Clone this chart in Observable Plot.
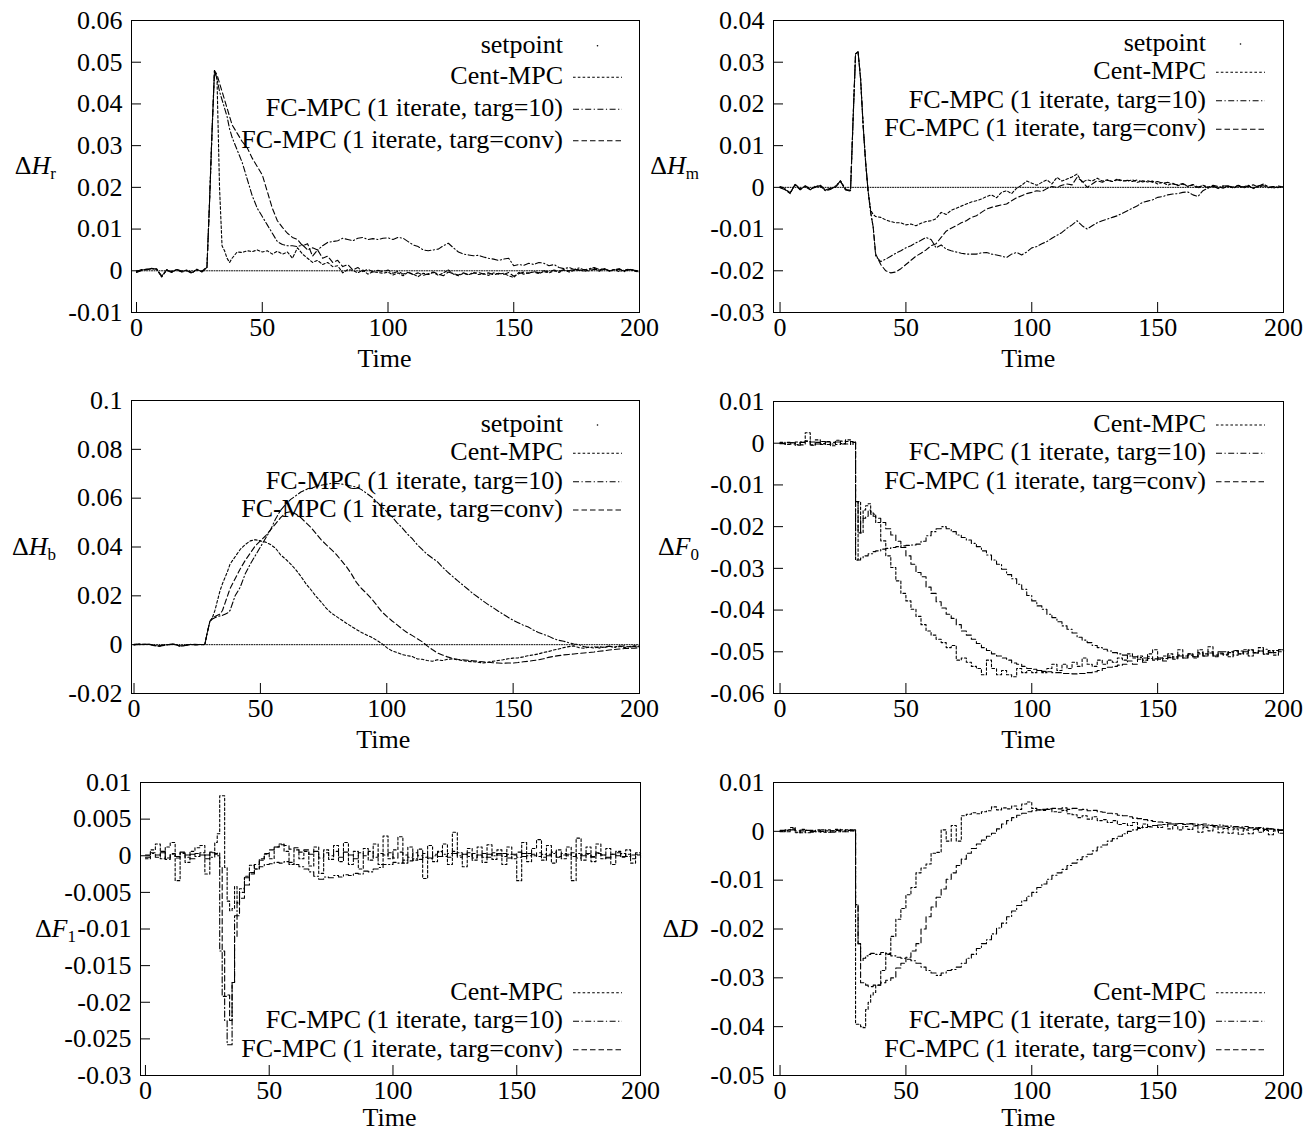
<!DOCTYPE html>
<html><head><meta charset="utf-8">
<script src="https://cdn.jsdelivr.net/npm/d3@7"></script>
<script src="https://cdn.jsdelivr.net/npm/@observablehq/plot@0.6"></script>
<style>
body{margin:0;background:#fff;}
#wrap{position:relative;width:1309px;height:1133px;overflow:hidden;font-family:"Liberation Serif",serif;}
#wrap svg{position:absolute;}
</style></head><body><div id="wrap"></div>
<script>
// ---------- shared time grid ----------
const time = [0,2,4,6,8,10,12,14,16,18,20,22,24,26,28,29,30,31,32,33,34,35,36,37,38,40,42,44,46,48,50,52,54,56,58,60,62,64,66,68,70,72,74,76,78,80,82,84,86,88,90,92,94,96,98,100,102,104,106,108,110,112,114,116,118,120,122,124,126,128,130,132,134,136,138,140,142,144,146,148,150,152,154,156,158,160,162,164,166,168,170,172,174,176,178,180,182,184,186,188,190,192,194,196,198,200];
const xTicks = [0,50,100,150,200];
const seriesNames = ["Cent-MPC","FC-MPC (1 iterate, targ=10)","FC-MPC (1 iterate, targ=conv)"];
const setpointTime = [0,200];
const setpointValue = [0,0];

// ---------- ΔH_r ----------
const yTicksHr = [-0.01,0,0.01,0.02,0.03,0.04,0.05,0.06];
const HrCent = [
-.0003,.0002,.0003,.0005,.0004,-.0015,.0002,-.0003,.0003,-.0002,
.0001,-.0005,.0003,-.0002,.0008,
.016,.033,.048,.046,.02,.006,.0048,.003,.002,
.003,.0045,.0044,.0048,.0046,.005,.0045,.0048,.004,.0047,
.004,.0045,.003,.0055,.004,.003,.002,.0025,.0015,.002,
.001,.0012,-.0005,.0003,.0001,-.0005,.0002,-.0008,-.0002,-.0004,
-.0006,-.0003,-.001,-.0005,-.0012,-.0003,-.0008,-.0014,-.0006,-.0009,
-.0004,-.0011,-.0005,.0002,-.0008,-.0012,-.0006,-.001,-.0004,-.0009,
-.0007,-.0011,-.0005,-.0008,-.0006,-.0012,-.0016,-.0004,-.0008,-.0005,
-.0003,-.0007,-.0002,-.0005,0,-.0004,.0002,-.0003,.0001,.0004,
-.0002,.0003,.0006,-.0001,.0004,0,.0003,-.0002,.0002,.0004,
-.0001,-.0003];
const HrT10 = [
-.0002,.0003,.0002,.0006,.0003,-.0012,.0001,-.0004,.0004,-.0001,
.0002,-.0004,.0002,-.0001,.0009,
.016,.033,.048,.046,.043,.041,.039,.037,.034,
.032,.029,.026,.022,.018,.015,.013,.011,.009,.007,
.0063,.006,.006,.0058,.0062,.005,.0055,.005,.006,.0068,
.007,.0072,.0078,.0075,.0072,.0078,.008,.0075,.0077,.0075,
.0078,.0079,.0075,.008,.0078,.007,.0062,.0058,.005,.0048,
.005,.0052,.006,.0066,.0055,.0045,.004,.0038,.0036,.0037,
.0033,.003,.0028,.0025,.0028,.003,.0012,.0015,.0013,.0018,
.0015,.002,.0018,.0012,.0015,.0008,.0005,.0008,.0003,.0007,
.0002,.0005,.0008,.0003,.0005,0,.0003,.0005,-.0002,.0003,
.0002,-.0003];
const HrConv = [
-.0004,.0001,.0004,.0004,.0005,-.0014,.0003,-.0002,.0002,-.0003,
0,-.0006,.0004,-.0003,.0007,
.016,.033,.048,.047,.045,.043,.041,.039,.037,
.035,.033,.031,.0295,.027,.025,.023,.019,.015,.012,
.0104,.009,.008,.0075,.006,.0065,.0035,.005,.003,.0035,
.002,.0025,.001,.0015,.0002,.0008,-.0002,.0004,-.0003,.0001,
-.0002,.0002,-.0006,-.0001,-.0008,-.0004,-.0009,-.0005,-.0011,-.0007,
-.0003,-.0008,-.0012,-.0003,-.0007,-.001,-.0005,-.0009,-.0006,-.0004,
-.0008,-.0005,-.001,-.0006,-.0009,-.0004,-.0013,-.0007,-.0003,-.0006,
-.0002,-.0005,0,-.0003,.0002,-.0001,.0003,0,.0004,.0001,
.0003,-.0001,.0004,.0002,.0005,-.0001,.0002,.0004,0,.0003,
.0001,-.0002];

// ---------- ΔH_m ----------
const yTicksHm = [-0.03,-0.02,-0.01,0,0.01,0.02,0.03,0.04];
const HmCent = [
0,-.0005,-.0015,.0008,-.0004,.0003,-.0005,.0002,.0004,-.0007,
-.0004,.0002,.0016,-.0004,-.0008,
.016,.032,.0325,.026,.015,.006,-.001,-.0055,-.0065,
-.007,-.0072,-.0078,-.0082,-.0085,-.0085,-.009,-.0088,-.0092,-.0086,
-.0082,-.008,-.0075,-.006,-.0065,-.0055,-.005,-.0045,-.004,-.0035,
-.0032,-.0028,-.0022,-.0018,-.0025,-.0012,-.0008,-.0015,-.0002,.0005,
.0015,.001,.0005,.0012,.0018,.0008,.0024,.0015,.002,.0025,
.0032,.0012,.0018,.0015,.0022,.0015,.0018,.0014,.002,.0016,
.0015,.0018,.0012,.0016,.0013,.0015,.0008,.0012,.0005,.001,
.0004,.0008,.0002,.0006,-.0002,.0005,.0001,.0003,-.0003,.0002,
.0004,-.0002,.0003,.0001,.0005,-.0003,.0002,.0008,.0001,-.0002,
.0003,.0001];
const HmT10 = [
-.0001,-.0006,-.0014,.0007,-.0005,.0002,-.0006,.0003,.0003,-.0008,
-.0005,.0003,.0015,-.0005,-.0007,
.016,.032,.0325,.026,.015,.006,-.001,-.006,-.0095,
-.0165,-.0178,-.0172,-.0165,-.0158,-.0152,-.0145,-.014,-.0133,-.0127,
-.012,-.0125,-.0145,-.0138,-.0148,-.0152,-.0155,-.0158,-.016,-.016,
-.016,-.0157,-.0156,-.016,-.0162,-.0165,-.0168,-.016,-.0156,-.0162,
-.0155,-.0145,-.0142,-.0135,-.013,-.0122,-.0115,-.0108,-.0098,-.009,
-.008,-.0092,-.01,-.0092,-.0085,-.008,-.0076,-.0072,-.0068,-.0062,
-.0056,-.005,-.0044,-.0036,-.0033,-.003,-.0024,-.0022,-.0018,-.0016,
-.0015,-.0012,-.0011,-.0018,-.0022,-.0008,-.0002,.0003,-.0001,.0004,
.0002,-.0001,.0005,.0001,.0003,-.0002,.0004,.0006,0,.0002,
-.0001,.0002];
const HmConv = [
.0002,-.0003,-.0013,.0006,-.0006,.0004,-.0003,0,.0005,-.0006,
-.0002,0,.0014,-.0006,-.0009,
.016,.032,.0325,.026,.015,.006,-.001,-.006,-.0095,
-.016,-.0185,-.02,-.0205,-.0203,-.0195,-.0185,-.0175,-.0165,-.0158,
-.015,-.014,-.0135,-.012,-.0105,-.0098,-.0092,-.0085,-.008,-.0072,
-.0068,-.006,-.0052,-.0048,-.0045,-.0042,-.004,-.0032,-.0025,-.002,
-.0015,-.0012,-.0008,-.001,-.0003,.0002,0,.0005,.0008,.0006,
.0024,.0015,0,.0008,.0016,.0012,.0017,.0014,.0018,.0015,
.0017,.0014,.0018,.0013,.0016,.0012,.0014,.001,.0012,.0008,
.0006,.0009,.0003,.0007,.0001,.0004,-.0001,.0005,.0002,-.0002,
.0003,.0001,.0004,-.0002,.0003,.0006,0,.0004,-.0001,.0002,
0,.0002];

// ---------- ΔH_b ----------
const yTicksHb = [-0.02,0,0.02,0.04,0.06,0.08,0.1];
const HbCent = [
0,.0002,.0001,.0002,-.0003,-.0006,-.0002,.0001,.0002,-.0006,
-.0004,.0001,0,.0001,0,
.005,.0095,.011,.014,.018,.022,.025,.0275,.03,
.033,.036,.039,.041,.0425,.043,.0425,.042,.041,.0395,
.0368,.035,.033,.0307,.028,.025,.0225,.0198,.0175,.015,
.013,.0116,.0102,.0088,.0075,.0062,.005,.004,.003,.0018,
.0005,-.0012,-.0025,-.0032,-.004,-.0045,-.0048,-.0058,-.006,-.0065,
-.0068,-.0062,-.0065,-.006,-.0058,-.0062,-.0065,-.0068,-.007,-.0072,
-.0075,-.0072,-.0068,-.0065,-.0062,-.0058,-.0055,-.0054,-.005,-.0045,
-.0042,-.0038,-.0032,-.0028,-.0022,-.0018,-.0012,-.0008,-.0005,-.0012,
-.0015,-.001,-.0014,-.0008,-.0012,-.0006,-.001,-.0005,-.0012,-.0008,
-.0005,-.0009];
const HbT10 = [
-.0001,.0003,0,.0002,-.0002,-.0006,-.0003,.0002,.0001,-.0005,
-.0004,.0002,-.0001,.0001,0,
.005,.0095,.0105,.011,.0115,.0118,.012,.0125,.013,
.014,.02,.0235,.029,.033,.0365,.04,.0435,.047,.0515,
.055,.0575,.0595,.061,.0625,.0635,.064,.0648,.0653,.0657,
.066,.066,.0658,.0654,.065,.0645,.0635,.062,.0605,.0585,
.0565,.0545,.0525,.05,.048,.0455,.0435,.041,.039,.037,
.0355,.034,.0318,.0298,.028,.0262,.0245,.0228,.021,.0195,
.018,.0165,.0152,.0138,.0125,.0112,.01,.009,.008,.0072,
.006,.005,.0042,.0035,.0025,.0018,.0014,.0008,.0003,0,
-.0008,-.0012,-.0008,-.0014,-.001,-.0006,-.0012,-.0008,-.0005,-.001,
-.0007,-.0004];
const HbConv = [
.0001,.0001,.0002,.0001,-.0004,-.0005,-.0001,0,.0003,-.0005,
-.0003,0,.0001,0,.0001,
.005,.0095,.011,.0115,.012,.0125,.014,.017,.02,
.023,.027,.031,.0345,.0375,.0405,.0425,.0445,.047,.0495,
.052,.054,.0545,.0535,.052,.05,.048,.0455,.043,.041,
.039,.037,.0345,.032,.029,.0255,.023,.021,.0188,.0162,
.0135,.0116,.0098,.0082,.0065,.005,.0038,.0025,.0012,-.0005,
-.002,-.0034,-.0042,-.005,-.0056,-.006,-.0062,-.0064,-.0066,-.0068,
-.007,-.0072,-.0074,-.0075,-.0076,-.0075,-.0075,-.0073,-.007,-.0068,
-.0065,-.0062,-.0058,-.0052,-.0048,-.0045,-.0042,-.004,-.0038,-.0036,
-.0034,-.0032,-.003,-.0027,-.0025,-.0022,-.002,-.0018,-.0016,-.0015,
-.0014,-.0012];

// ---------- ΔF_0 ----------
const yTicksF0 = [-0.06,-0.05,-0.04,-0.03,-0.02,-0.01,0,0.01];
const F0Cent = [
.0002,-.0003,.0001,-.0005,.0003,.0025,-.0005,.0008,-.0003,.0004,
-.0006,.0007,-.0002,.0008,-.0003,
.0003,-.028,-.014,-.0215,-.016,-.015,-.0145,-.0165,-.017,
-.019,-.0234,-.027,-.0298,-.033,-.036,-.0378,-.0398,-.0415,-.0435,
-.045,-.046,-.047,-.0478,-.049,-.0485,-.052,-.0515,-.0525,-.0535,
-.054,-.0555,-.052,-.054,-.0555,-.0545,-.0555,-.056,-.054,-.055,
-.0545,-.055,-.0545,-.055,-.054,-.053,-.0545,-.053,-.054,-.0525,
-.0535,-.0515,-.053,-.0535,-.052,-.053,-.052,-.0525,-.0515,-.052,
-.0505,-.0515,-.051,-.052,-.0505,-.0495,-.0515,-.051,-.0505,-.0515,
-.0495,-.051,-.0505,-.0515,-.0495,-.0505,-.0488,-.051,-.0505,-.05,
-.0512,-.0498,-.0505,-.0495,-.051,-.0502,-.049,-.0505,-.0498,-.0508,
-.0495,-.0505];
const F0T10 = [
0,-.0002,.0001,-.0003,.0002,.0004,-.0004,.0002,-.0001,.0003,
-.0002,.0003,-.0001,.0004,.0001,
.0002,-.028,-.028,-.0275,-.027,-.027,-.0265,-.0265,-.026,
-.0258,-.0254,-.0252,-.025,-.0248,-.0246,-.0245,-.0244,-.0242,-.0235,
-.0222,-.0212,-.0205,-.02,-.0205,-.0212,-.022,-.0226,-.0232,-.024,
-.0248,-.0258,-.0268,-.028,-.029,-.0302,-.0315,-.0325,-.0338,-.035,
-.0365,-.0378,-.039,-.0398,-.041,-.0418,-.0428,-.0438,-.0446,-.0455,
-.0465,-.0472,-.0478,-.0485,-.049,-.0494,-.0498,-.0502,-.0505,-.0508,
-.051,-.0512,-.0514,-.0515,-.0516,-.0517,-.0518,-.0516,-.0514,-.0512,
-.051,-.0515,-.0508,-.0512,-.0505,-.051,-.0503,-.0508,-.05,-.0506,
-.0502,-.0497,-.0505,-.05,-.0496,-.0503,-.0498,-.0494,-.0502,-.0497,
-.05,-.0496];
const F0Conv = [
-.0001,.0002,-.0002,.0003,-.0004,.0006,.0003,-.0002,.0004,-.0003,
.0002,-.0003,.0005,-.0002,.0004,
.0001,-.014,-.0215,-.0185,-.018,-.0175,-.016,-.017,-.0175,
-.018,-.019,-.0205,-.022,-.0235,-.025,-.027,-.029,-.031,-.032,
-.0345,-.036,-.038,-.0395,-.041,-.042,-.0435,-.045,-.046,-.047,
-.048,-.049,-.0497,-.0505,-.051,-.0515,-.052,-.0527,-.053,-.0535,
-.054,-.0542,-.0545,-.0547,-.0548,-.055,-.055,-.0552,-.0552,-.0553,
-.0552,-.0552,-.055,-.0548,-.0545,-.054,-.0537,-.0535,-.0532,-.053,
-.0522,-.053,-.0518,-.0525,-.0512,-.052,-.0515,-.0522,-.051,-.0518,
-.0508,-.0515,-.0505,-.0512,-.0502,-.051,-.05,-.0512,-.0503,-.0508,
-.05,-.0508,-.0498,-.0505,-.0495,-.0503,-.0498,-.0506,-.0497,-.0502,
-.0495,-.05];

// ---------- ΔF_1 ----------
const yTicksF1 = [-0.03,-0.025,-0.02,-0.015,-0.01,-0.005,0,0.005,0.01];
const F1Cent = [
-.0004,.0008,.0016,-.0004,.0012,.0018,-.0034,.0004,-.0009,.0006,
.0011,.0014,-.0025,.0004,.0018,
.003,.0082,.0082,-.0016,-.0062,-.0075,-.0072,-.0042,-.0065,
-.0045,-.0028,-.0013,-.0018,-.0006,.0002,-.0004,.0012,.0016,.0006,
-.0012,.0008,-.0004,.0006,-.0014,.0012,-.0024,.0008,-.0005,.0014,
-.0008,.0018,-.0012,.0006,-.0018,.001,-.0006,.0016,-.0012,.0027,
-.0004,.0008,.0026,-.001,.0012,-.0006,.0009,-.0031,.0014,-.0008,
.0006,.0016,-.0012,.0032,.0004,-.0015,.001,-.0006,.0012,-.0009,
.0015,-.0005,.0008,-.0012,.0012,-.0004,-.0034,.0018,-.0008,.001,
.0022,-.0006,.0014,-.001,.0008,-.0004,.0012,-.0034,.0024,-.0006,
.0012,-.0008,.0016,-.0004,.001,-.0012,.0006,-.0002,.0008,-.001,
.0004,-.0003];
const F1T10 = [
.0001,.0003,-.0002,.0004,-.0003,.0002,-.0001,.0003,-.0002,.0002,
-.0001,.0004,.0001,-.0002,.0003,
0,-.013,-.0192,-.0225,-.0258,-.0258,-.0173,-.0082,-.0064,
-.005,-.003,-.0023,-.0018,-.0015,-.0012,-.0011,-.0009,-.001,-.0008,
-.0009,-.0012,-.0015,-.0018,-.0022,-.0028,-.0032,-.0029,-.003,-.0027,
-.0029,-.0026,-.0027,-.0024,-.0025,-.0021,-.0022,-.0018,-.0016,-.0012,
-.0012,-.0009,-.001,-.0006,-.0007,-.0004,-.0005,-.0002,-.0003,0,
-.0001,.0002,-.0002,.0003,0,.0002,-.0001,.0003,.0001,-.0002,
.0002,0,.0003,-.0001,.0002,.0001,-.0002,.0003,0,.0002,
-.0001,.0002,0,.0003,-.0002,.0001,.0002,-.0001,.0003,0,
.0002,-.0001,.0003,.0001,-.0002,.0002,0,.0003,-.0001,.0001,
.0002,-.0001];
const F1Conv = [
-.0002,.0004,.0001,.0006,-.0005,.0003,-.0003,.0005,.0001,-.0004,
.0003,.0001,-.0004,.0005,.0002,
.0004,-.0015,-.013,-.0192,-.019,-.0225,-.0173,-.011,-.0082,
-.0058,-.004,-.0025,-.0012,-.0004,.0003,.0008,.0012,.0015,.0014,
.0009,.0011,.0005,.0008,.0002,.0006,-.0003,.0004,0,.0006,
-.0002,.0005,.0001,-.0004,.0004,0,.0006,-.0002,.0003,.0001,
.0004,-.0003,.0005,.0001,-.0002,.0004,0,.0003,-.0004,.0002,
.0005,-.0001,.0003,.0006,-.0002,.0002,.0004,-.0003,.0001,.0003,
-.0002,.0004,.0001,.0003,-.0003,.0002,.0005,-.0001,.0003,0,
.0004,-.0002,.0002,.0005,-.0001,.0003,0,.0004,-.0003,.0002,
.0003,-.0002,.0004,.0001,-.0003,.0002,.0004,-.0001,.0002,-.0004,
.0001,-.0002];

// ---------- ΔD ----------
const yTicksD = [-0.05,-0.04,-0.03,-0.02,-0.01,0,0.01];
const DCent = [
0,.0003,.0008,-.0002,.0004,-.0003,.0002,-.0001,.0003,-.0002,
.0001,.0004,-.0001,.0003,.0002,
.0003,-.0395,-.0395,-.04,-.0402,-.0365,-.035,-.0335,-.033,
-.0315,-.0285,-.025,-.0215,-.018,-.0158,-.013,-.0115,-.0085,-.0075,
-.0067,-.0045,-.0043,.0003,-.002,.0012,-.002,.0032,.0035,.0038,
.0036,.004,.0042,.005,.0044,.0048,.0046,.0052,.0045,.0056,
.006,.0047,.0044,.0043,.0045,.004,.0039,.0043,.0036,.0034,
.0028,.0032,.0025,.003,.0022,.0024,.0018,.0022,.0014,.0016,
.0012,.0018,.0008,.0015,.0009,.0012,.0008,.0014,.0005,.0012,
.0003,.001,.0004,.0011,-.0002,.0008,.0001,.0009,-.0003,.0006,
-.0004,.0005,-.0006,.0003,-.0005,.0004,-.0002,.0002,-.0007,.0001,
-.0004,-.0006];
const DT10 = [
-.0001,.0002,.0003,-.0003,.0001,.0002,-.0002,.0001,0,.0003,
.0001,-.0001,.0003,.0002,.0001,
.0002,-.015,-.023,-.0265,-.026,-.0255,-.0252,-.025,-.025,
-.0252,-.0248,-.0252,-.0255,-.0258,-.026,-.0262,-.0265,-.027,-.0278,
-.0285,-.029,-.0295,-.029,-.0285,-.0283,-.0278,-.027,-.026,-.0252,
-.024,-.023,-.0222,-.021,-.0198,-.0188,-.0175,-.0163,-.0152,-.0142,
-.0133,-.0125,-.0115,-.0108,-.0098,-.009,-.0085,-.0078,-.007,-.0065,
-.0058,-.0052,-.0047,-.004,-.0032,-.0028,-.002,-.0015,-.001,-.0005,
0,.0003,.0006,.0008,.001,.0012,.0013,.0014,.0015,.0015,
.0016,.0015,.0016,.0015,.0014,.0015,.0013,.0012,.0013,.0011,
.0011,.001,.0009,.001,.0008,.0007,.0008,.0006,.0005,.0004,
.0003,.0002];
const DConv = [
.0002,-.0001,.0005,.0001,-.0003,.0002,0,.0003,-.0002,.0001,
-.0002,.0002,.0001,-.0001,.0003,
.0001,-.015,-.023,-.031,-.031,-.0315,-.0318,-.0318,-.0315,
-.0315,-.031,-.0305,-.03,-.028,-.027,-.0258,-.0245,-.023,-.02,
-.0175,-.0155,-.0135,-.0118,-.0098,-.0085,-.007,-.0057,-.0045,-.0035,
-.0026,-.0018,-.001,-.0004,.0005,.0015,.0022,.0028,.0033,.0037,
.004,.0042,.0044,.0045,.0046,.0047,.0046,.0048,.0045,.0047,
.0044,.0045,.0042,.0043,.004,.0039,.0037,.0036,.0033,.0032,
.003,.0027,.0026,.0024,.0022,.002,.0019,.0018,.0017,.0015,
.0016,.0014,.0015,.0012,.0013,.0011,.0012,.001,.0009,.001,
.0008,.0009,.0007,.0006,.0007,.0005,.0006,.0004,.0005,.0003,
.0002,.0001];

// ---------- layout ----------
const FS = 26;
const dashes = ["2.6,2.2", "6,2.5,1.2,2.5", "5.5,3"];
const setpointDash = "1,1.5";
const LW = 1.1;

const panels = [
 {sym:"H", sub:"r", left:0, top:0, width:655, height:380, mL:131, mR:16, mT:20, mB:68, xDomain:[-2,200], yDomain:[-0.01,0.06], yTicks:yTicksHr, curve:"linear", series:[HrCent,HrT10,HrConv], setpoint:true,
  titleX:56, timeY:367, legendRows:[45.7,77.3,109.3,140.7], legendRight:563, sample:[573,622]},
 {sym:"H", sub:"m", left:655, top:0, width:654, height:380, mL:118, mR:26, mT:20, mB:68, xDomain:[-2.6,200], yDomain:[-0.03,0.04], yTicks:yTicksHm, curve:"linear", series:[HmCent,HmT10,HmConv], setpoint:true,
  titleX:699, timeY:367, legendRows:[44,72.3,100.7,129.3], legendRight:1206, sample:[1216,1265]},
 {sym:"H", sub:"b", left:0, top:380, width:655, height:380, mL:131, mR:16, mT:20, mB:67, xDomain:[-1,200], yDomain:[-0.02,0.1], yTicks:yTicksHb, curve:"linear", series:[HbCent,HbT10,HbConv], setpoint:true,
  titleX:56, timeY:748, legendRows:[425,453.3,481.7,510], legendRight:563, sample:[573,622]},
 {sym:"F", sub:"0", left:655, top:380, width:654, height:380, mL:118, mR:26, mT:21, mB:67, xDomain:[-2.6,200], yDomain:[-0.06,0.01], yTicks:yTicksF0, curve:"step-after", series:[F0Cent,F0T10,F0Conv], setpoint:false,
  titleX:699, timeY:748, legendRows:[425,453.3,481.7], legendRight:1206, sample:[1216,1265]},
 {sym:"F", sub:"1", left:0, top:760, width:655, height:373, mL:140, mR:15, mT:22, mB:58, xDomain:[-2,200], yDomain:[-0.03,0.01], yTicks:yTicksF1, curve:"step-after", series:[F1Cent,F1T10,F1Conv], setpoint:false,
  titleX:76, timeY:1126, legendRows:[992.7,1021.3,1049.7], legendRight:563, sample:[573,622]},
 {sym:"D", sub:"", left:655, top:760, width:654, height:373, mL:118, mR:26, mT:22, mB:58, xDomain:[-2.6,200], yDomain:[-0.05,0.01], yTicks:yTicksD, curve:"step-after", series:[DCent,DT10,DConv], setpoint:false,
  titleX:698, timeY:1126, legendRows:[992.7,1021.3,1049.7], legendRight:1206, sample:[1216,1265]},
];

const wrap = document.getElementById("wrap");
const fmt = d => String(d);

for (const p of panels) {
  p.series.forEach((s, i) => { if (s.length !== time.length) console.error("length mismatch", p.sym + p.sub, i, s.length); });
  const plotW = p.width - p.mL - p.mR;
  const plotH = p.height - p.mT - p.mB;
  const marks = [
    Plot.frame({stroke: "black", strokeWidth: 1}),
    Plot.tickX(xTicks, {x: d => d, insetTop: plotH - 10, stroke: "black", strokeWidth: 1}),
    Plot.tickY(p.yTicks, {y: d => d, insetRight: plotW - 10, stroke: "black", strokeWidth: 1}),
    Plot.axisX(xTicks, {tickSize: 0, tickPadding: 5, tickFormat: fmt, label: null}),
    Plot.axisY(p.yTicks, {tickSize: 0, tickPadding: 9, tickFormat: fmt, label: null})
  ];
  if (p.setpoint) {
    const sp = setpointTime.map((t, i) => ({t, v: setpointValue[i]}));
    marks.push(Plot.line(sp, {x: "t", y: "v", stroke: "black", strokeWidth: 1, strokeDasharray: setpointDash}));
  }
  p.series.forEach((s, i) => {
    const rows = time.map((t, j) => ({t, v: s[j], name: seriesNames[i]}));
    marks.push(Plot.line(rows, {x: "t", y: "v", stroke: "black", strokeWidth: LW, strokeDasharray: dashes[i], curve: p.curve}));
  });
  const svg = Plot.plot({
    width: p.width, height: p.height,
    marginLeft: p.mL, marginRight: p.mR, marginTop: p.mT, marginBottom: p.mB,
    x: {domain: p.xDomain},
    y: {domain: p.yDomain},
    style: {fontFamily: "'Liberation Serif', serif", fontSize: FS + "px", background: "transparent", color: "black", overflow: "visible"},
    marks
  });
  svg.style.left = p.left + "px";
  svg.style.top = p.top + "px";
  wrap.appendChild(svg);
}

// ---------- overlay: y titles, x titles, legends ----------
const ov = d3.select(wrap).append("svg")
  .attr("width", 1309).attr("height", 1133)
  .style("left", "0px").style("top", "0px")
  .style("pointer-events", "none")
  .attr("font-family", "'Liberation Serif', serif")
  .attr("font-size", FS);

for (const p of panels) {
  const frameTop = p.top + p.mT;
  const frameBottom = p.top + p.height - p.mB;
  const frameLeft = p.left + p.mL;
  const frameRight = p.left + p.width - p.mR;
  const midY = (frameTop + frameBottom) / 2;
  // y title
  const t = ov.append("text").attr("x", p.titleX).attr("y", midY + 8).attr("text-anchor", "end");
  t.append("tspan").text("Δ");
  t.append("tspan").attr("font-style", "italic").text(p.sym);
  if (p.sub) t.append("tspan").attr("font-size", 17).attr("dy", 5).text(p.sub);
  // x title
  const x100 = frameLeft + (100 - p.xDomain[0]) / (200 - p.xDomain[0]) * (frameRight - frameLeft);
  ov.append("text").attr("x", x100 - 3).attr("y", p.timeY).attr("text-anchor", "middle").text("Time");
  // legend
  const labels = p.setpoint ? ["setpoint", ...seriesNames] : seriesNames;
  labels.forEach((lab, i) => {
    const y = p.legendRows[i];
    ov.append("text").attr("x", p.legendRight).attr("y", y + 7).attr("text-anchor", "end").text(lab);
    if (lab === "setpoint") {
      ov.append("circle").attr("cx", (p.sample[0] + p.sample[1]) / 2).attr("cy", y).attr("r", 0.8).attr("fill", "black");
    } else {
      const k = seriesNames.indexOf(lab);
      ov.append("line").attr("x1", p.sample[0]).attr("x2", p.sample[1]).attr("y1", y).attr("y2", y)
        .attr("stroke", "black").attr("stroke-width", LW).attr("stroke-dasharray", dashes[k]);
    }
  });
}
</script></body></html>
